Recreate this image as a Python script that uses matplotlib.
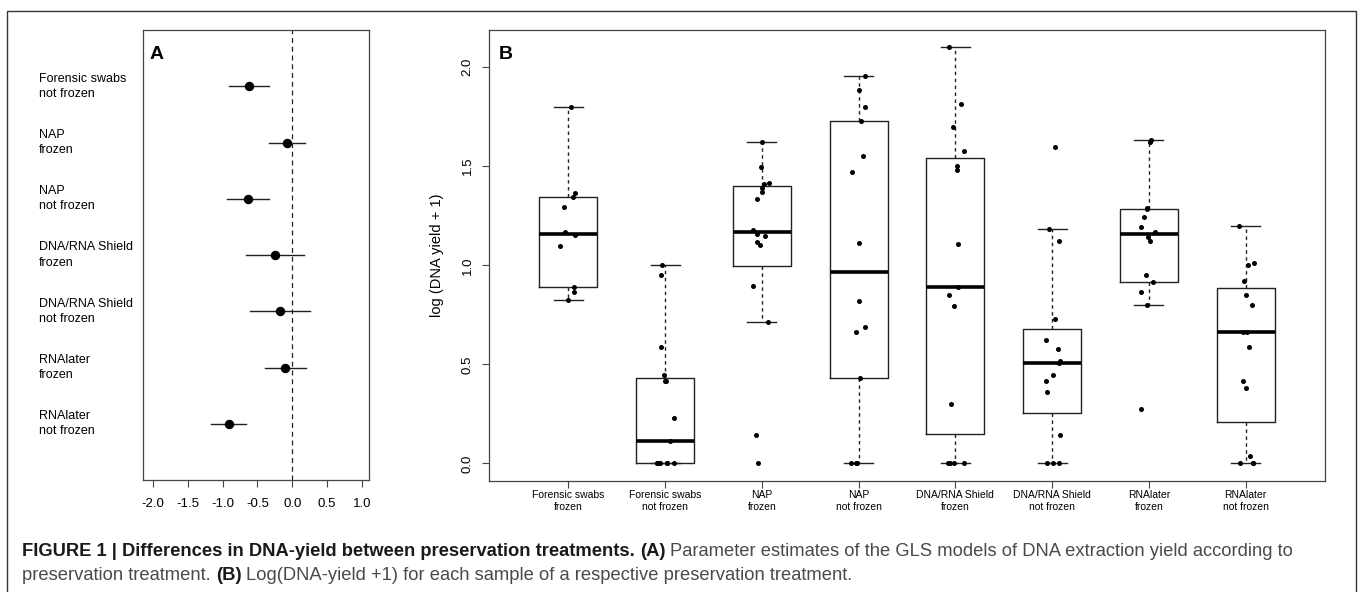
import numpy as np
import matplotlib
matplotlib.use("Agg")
import matplotlib.pyplot as plt
from matplotlib.transforms import blended_transform_factory
from matplotlib.patches import Rectangle

plt.rcParams['font.family'] = ['Liberation Sans', 'DejaVu Sans']

# panel A: GLS parameter estimates with intervals
gls_labels = ["Forensic swabs\nnot frozen", "NAP\nfrozen", "NAP\nnot frozen",
              "DNA/RNA Shield\nfrozen", "DNA/RNA Shield\nnot frozen",
              "RNAlater\nfrozen", "RNAlater\nnot frozen"]
gls_est = [-0.62, -0.08, -0.64, -0.25, -0.18, -0.10, -0.91]
gls_lo = [-0.90, -0.34, -0.94, -0.66, -0.61, -0.39, -1.17]
gls_hi = [-0.34, 0.18, -0.34, 0.17, 0.25, 0.20, -0.66]

# panel B: log(DNA yield + 1) per sample
treatments = ["Forensic swabs\nfrozen", "Forensic swabs\nnot frozen", "NAP\nfrozen",
              "NAP\nnot frozen", "DNA/RNA Shield\nfrozen", "DNA/RNA Shield\nnot frozen",
              "RNAlater\nfrozen", "RNAlater\nnot frozen"]
fs_frozen = [1.80, 1.367, 1.342, 1.293, 1.167, 1.152, 1.098, 0.888, 0.864, 0.826]
fs_not_frozen = [1.0, 0.95, 0.59, 0.447, 0.415, 0.415, 0.23, 0.111, 0, 0, 0, 0, 0, 0, 0]
nap_frozen = [1.622, 1.498, 1.415, 1.409, 1.389, 1.369, 1.335, 1.177, 1.157, 1.147, 1.117,
              1.100, 0.893, 0.715, 0.145, 0.0]
nap_not_frozen = [1.957, 1.885, 1.80, 1.727, 1.552, 1.469, 1.111, 0.819, 0.691, 0.663, 0.431,
                  0, 0, 0]
shield_frozen = [2.103, 1.815, 1.698, 1.577, 1.503, 1.48, 1.108, 0.891, 0.851, 0.792, 0.30,
                 0, 0, 0, 0]
shield_not_frozen = [1.596, 1.182, 1.121, 0.731, 0.622, 0.578, 0.518, 0.506, 0.446, 0.415,
                     0.36, 0.145, 0, 0, 0]
rnalater_frozen = [1.631, 1.622, 1.288, 1.285, 1.246, 1.195, 1.170, 1.142, 1.121, 0.950,
                   0.918, 0.864, 0.799, 0.277]
rnalater_not_frozen = [1.20, 1.011, 0.999, 0.921, 0.851, 0.799, 0.663, 0.663, 0.59, 0.415,
                       0.38, 0.04, 0, 0, 0]
groups = [fs_frozen, fs_not_frozen, nap_frozen, nap_not_frozen, shield_frozen,
          shield_not_frozen, rnalater_frozen, rnalater_not_frozen]


def fivenum(v):
    x = np.sort(np.asarray(v, float))
    n = len(x)
    n4 = np.floor((n + 3) / 2) / 2
    d = np.array([1, n4, (n + 1) / 2, n + 1 - n4, n])
    return 0.5 * (x[np.floor(d).astype(int) - 1] + x[np.ceil(d).astype(int) - 1])


def box_stats(v):
    x = np.asarray(v, float)
    _, q1, med, q3, _ = fivenum(x)
    iqr = q3 - q1
    hi = x[x <= q3 + 1.5 * iqr].max()
    lo = x[x >= q1 - 1.5 * iqr].min()
    return dict(med=med, q1=q1, q3=q3, whislo=lo, whishi=hi, fliers=[])


fig = plt.figure(figsize=(13.58, 5.92), dpi=100)
W, H = 1358, 592

# outer frame
fig.patches.append(Rectangle((7 / W, -0.1), (1356 - 7) / W, 1.1 - 11 / H, transform=fig.transFigure,
                             fill=False, edgecolor='#333333', lw=1.0))

frame_col = '#444444'

# ---- panel A ----
axA = fig.add_axes([143 / W, 1 - 480 / H, (369 - 143) / W, (480 - 30) / H])
rows = np.arange(7, 0, -1)
for r, e, lo, hi in zip(rows, gls_est, gls_lo, gls_hi):
    axA.plot([lo, hi], [r, r], color='#222222', lw=1.0)
axA.plot(gls_est, rows, 'o', color='black', ms=5.8)
axA.axvline(0, color='#222222', lw=0.9, linestyle=(0, (4, 3)))
axA.set_xlim(-2.14, 1.10)
axA.set_ylim(0, 8)
axA.set_yticks([])
axA.set_xticks(np.arange(-2.0, 1.01, 0.5))
axA.set_xticklabels(["%.1f" % t for t in np.arange(-2.0, 1.01, 0.5)])
axA.tick_params(axis='x', direction='out', length=5, width=0.8, labelsize=9.5, pad=8,
                color=frame_col)
for s in axA.spines.values():
    s.set_color(frame_col)
    s.set_linewidth(0.9)
trA = blended_transform_factory(fig.transFigure, axA.transData)
for r, lab in zip(rows, gls_labels):
    axA.text(39 / W, r, lab, transform=trA, ha='left', va='center', fontsize=9,
             linespacing=1.35)
axA.text(0.03, 0.965, "A", transform=axA.transAxes, fontsize=14, fontweight='bold',
         ha='left', va='top')

# ---- panel B ----
axB = fig.add_axes([489 / W, 1 - 480.5 / H, (1325 - 489) / W, (480.5 - 30) / H])
pos = np.arange(1, len(groups) + 1)
stats = [box_stats(g) for g in groups]
axB.bxp(stats, positions=pos, widths=0.6, showfliers=False,
        boxprops=dict(color='#222222', lw=1.0),
        medianprops=dict(color='black', lw=2.6),
        whiskerprops=dict(color='#222222', lw=1.0, linestyle=(0, (2.5, 2.5))),
        capprops=dict(color='#222222', lw=1.0))
rng = np.random.default_rng(7)
for p, g in zip(pos, groups):
    xs = p + rng.uniform(-0.09, 0.09, len(g))
    axB.scatter(xs, g, s=13, color='black', zorder=3, linewidths=0)
axB.set_xlim(0.18, 8.82)
axB.set_ylim(-0.086, 2.187)
axB.set_yticks([0.0, 0.5, 1.0, 1.5, 2.0])
axB.set_yticklabels(["0.0", "0.5", "1.0", "1.5", "2.0"], rotation=90, va='center')
axB.set_xticks(pos)
axB.set_xticklabels(treatments, fontsize=7.5, linespacing=1.2)
axB.tick_params(axis='y', direction='out', length=5, width=0.8, labelsize=9.5, pad=6,
                color=frame_col)
axB.tick_params(axis='x', direction='out', length=5, width=0.8, pad=2, color=frame_col)
axB.set_ylabel("log (DNA yield + 1)", fontsize=10.5, labelpad=13)
for s in axB.spines.values():
    s.set_color(frame_col)
    s.set_linewidth(0.9)
axB.text(0.012, 0.965, "B", transform=axB.transAxes, fontsize=14, fontweight='bold',
         ha='left', va='top')

# ---- caption ----
caption = [
    [("FIGURE 1 | Differences in DNA-yield between preservation treatments.", 'bold'),
     ("(A)", 'bold'),
     ("Parameter estimates of the GLS models of DNA extraction yield according to", 'normal')],
    [("preservation treatment.", 'normal'), ("(B)", 'bold'),
     ("Log(DNA-yield +1) for each sample of a respective preservation treatment.", 'normal')],
]
cap_size = 13.2
fig.canvas.draw()
renderer = fig.canvas.get_renderer()


def text_width(s, weight):
    t = fig.text(0, 0, s, fontsize=cap_size, fontweight=weight)
    w = t.get_window_extent(renderer).width
    t.remove()
    return w


line_y = [1 - 552 / H, 1 - 576 / H]
for pieces, y in zip(caption, line_y):
    x = 22.0
    for s, weight in pieces:
        col = '#1a1a1a' if weight == 'bold' else '#4a4a4a'
        t = fig.text(x / W, y, s, fontsize=cap_size, fontweight=weight, color=col,
                     ha='left', va='center')
        x += t.get_window_extent(renderer).width
        x += text_width("x x", weight) - text_width("xx", weight)

fig.savefig("out.png", dpi=100)
